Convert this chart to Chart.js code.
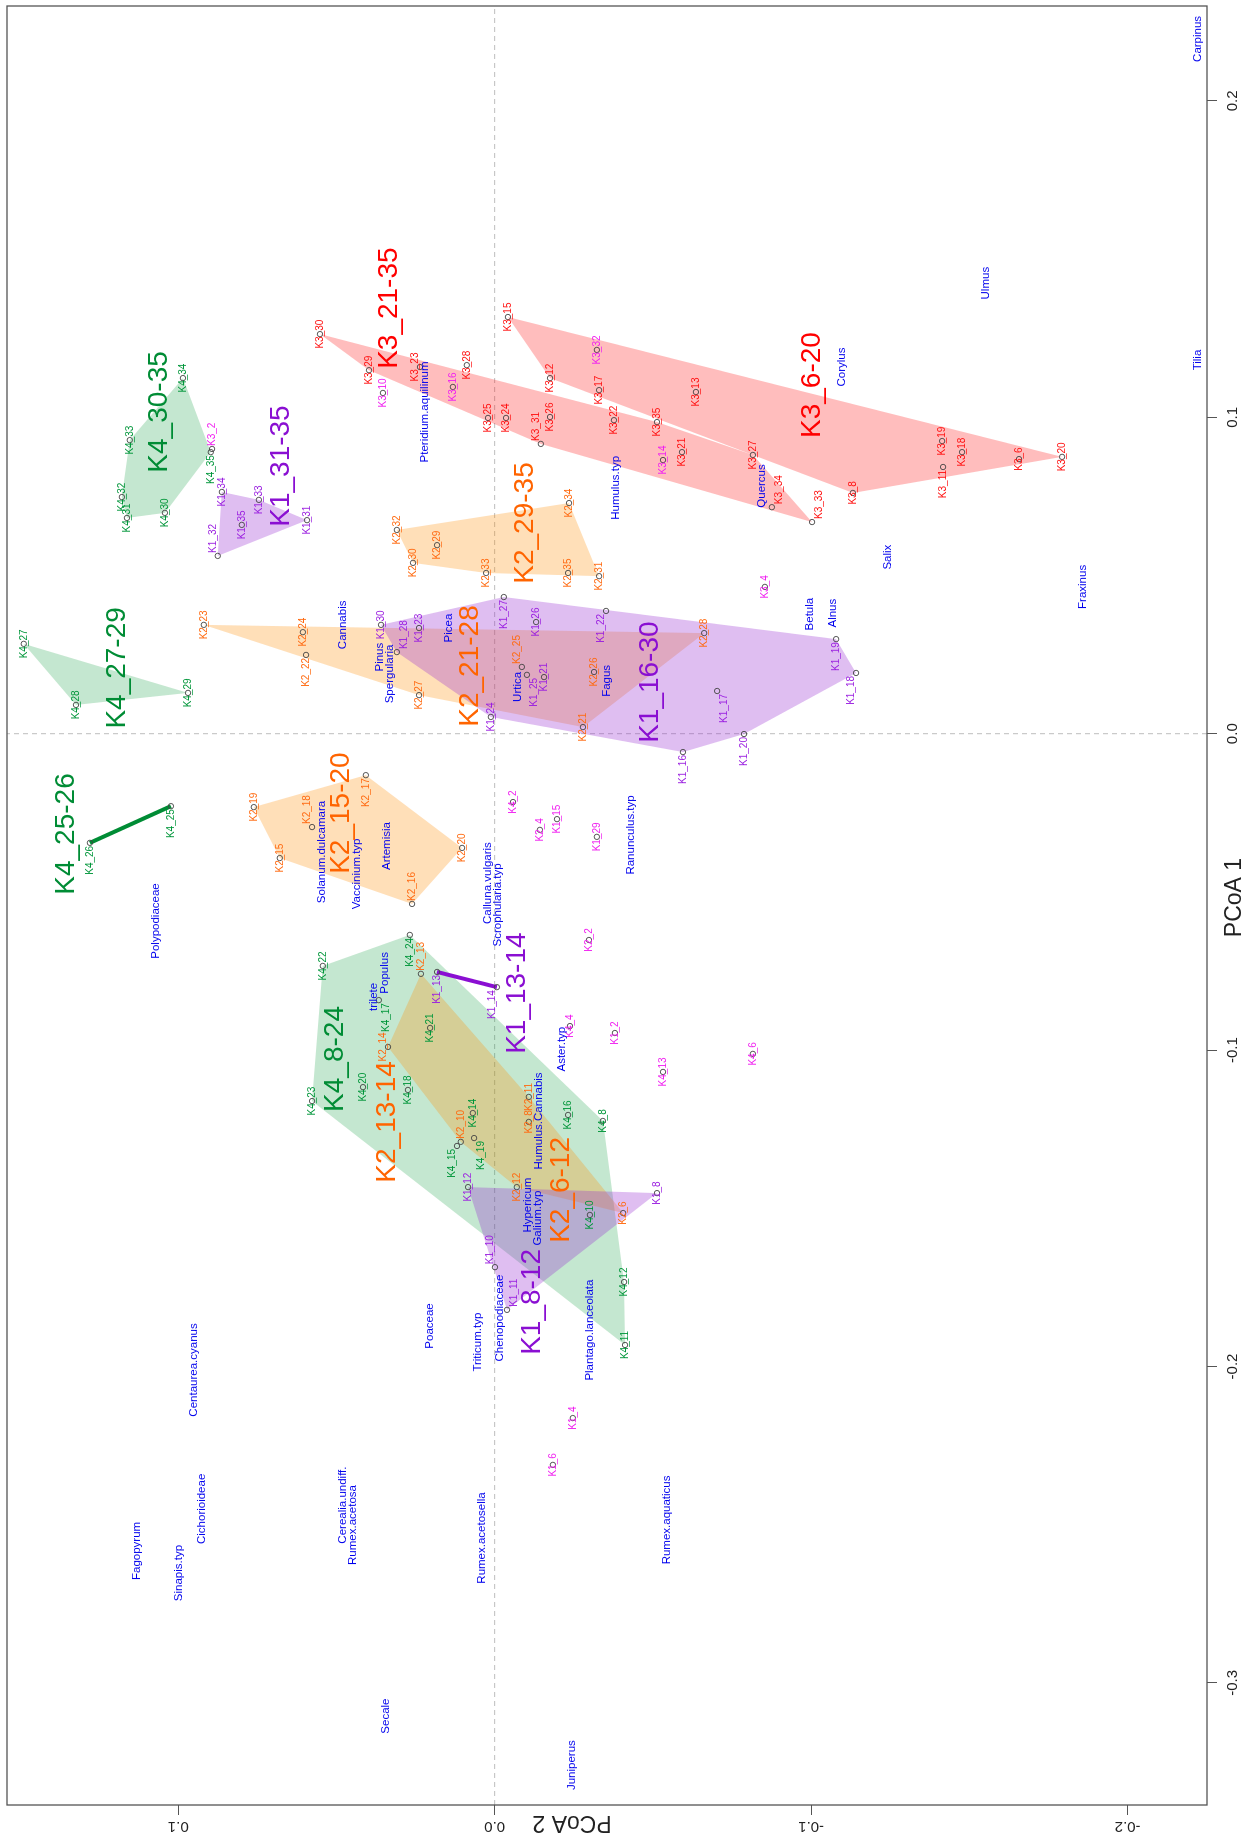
<!DOCTYPE html>
<html>
<head>
<meta charset="utf-8">
<title>PCoA ordination</title>
<script src="https://cdn.jsdelivr.net/npm/chart.js@4.4.1/dist/chart.umd.min.js"></script>
<style>
  html, body { margin: 0; padding: 0; width: 1251px; height: 1838px; overflow: hidden; background: #fff; }
  /* the plot is laid out landscape and turned a quarter turn counter-clockwise */
  #wrap { position: absolute; left: 0; top: 0; width: 1838px; height: 1251px;
          transform-origin: 0 0; transform: translateY(1838px) rotate(-90deg); }
  canvas { display: block; }
</style>
</head>
<body>
<div id="wrap"><canvas id="c" width="1838" height="1251"></canvas></div>
<script>
// ---- sample scores (PCoA 1, PCoA 2) per core ----
const k1Names = ['K1_8','K1_10','K1_11','K1_12','K1_13','K1_14','K1_16','K1_17','K1_18','K1_19','K1_20','K1_21','K1_22','K1_23','K1_24','K1_25','K1_26','K1_27','K1_28','K1_30','K1_31','K1_32','K1_33','K1_34','K1_35'];
const k1PC1 = [-0.1452,-0.1686,-0.1821,-0.1433,-0.0753,-0.0801,-0.0058,0.0135,0.0192,0.0299,-0.0001,0.0179,0.0388,0.0334,0.0053,0.0186,0.0353,0.0432,0.0258,0.0344,0.0675,0.0562,0.0739,0.0764,0.0660];
const k1PC2 = [-0.0513,-0.0001,-0.0039,0.0084,0.0182,-0.0007,-0.0595,-0.0703,-0.1142,-0.1079,-0.0788,-0.0156,-0.0352,0.0239,0.0012,-0.0102,-0.0131,-0.0029,0.0309,0.0359,0.0593,0.0875,0.0745,0.0862,0.0799];

const k2Names = ['K2_6','K2_8','K2_10','K2_11','K2_12','K2_13','K2_14','K2_15','K2_16','K2_17','K2_18','K2_19','K2_20','K2_21','K2_22','K2_23','K2_24','K2_25','K2_26','K2_27','K2_28','K2_29','K2_30','K2_31','K2_32','K2_33','K2_34','K2_35'];
const k2PC1 = [-0.1515,-0.1227,-0.1290,-0.1148,-0.1433,-0.0759,-0.0990,-0.0393,-0.0538,-0.0131,-0.0295,-0.0232,-0.0361,0.0021,0.0249,0.0344,0.0321,0.0211,0.0195,0.0122,0.0318,0.0596,0.0540,0.0498,0.0644,0.0508,0.0729,0.0508];
const k2PC2 = [-0.0406,-0.0108,0.0107,-0.0108,-0.0070,0.0233,0.0337,0.0679,0.0261,0.0407,0.0577,0.0761,0.0103,-0.0279,0.0596,0.0919,0.0606,-0.0086,-0.0314,0.0239,-0.0662,0.0182,0.0258,-0.0330,0.0309,0.0027,-0.0235,-0.0232];

const k3Names = ['K3_6','K3_8','K3_11','K3_12','K3_13','K3_15','K3_17','K3_18','K3_19','K3_20','K3_21','K3_22','K3_23','K3_24','K3_25','K3_26','K3_27','K3_28','K3_29','K3_30','K3_31','K3_33','K3_34','K3_35'];
const k3PC1 = [0.0868,0.0761,0.0843,0.1124,0.1080,0.1317,0.1086,0.0890,0.0925,0.0875,0.0890,0.0991,0.1159,0.0998,0.0998,0.1001,0.0881,0.1165,0.1149,0.1263,0.0916,0.0669,0.0716,0.0985];
const k3PC2 = [-0.1657,-0.1132,-0.1417,-0.0175,-0.0636,-0.0042,-0.0330,-0.1477,-0.1414,-0.1793,-0.0592,-0.0377,0.0236,-0.0036,0.0021,-0.0175,-0.0816,0.0088,0.0397,0.0552,-0.0146,-0.1003,-0.0876,-0.0513];

const k4Names = ['K4_8','K4_10','K4_11','K4_12','K4_14','K4_15','K4_16','K4_17','K4_18','K4_19','K4_20','K4_21','K4_22','K4_23','K4_24','K4_25','K4_26','K4_27','K4_28','K4_29','K4_30','K4_31','K4_32','K4_33','K4_34','K4_35'];
const k4PC1 = [-0.1224,-0.1521,-0.1932,-0.1733,-0.1199,-0.1303,-0.1205,-0.0842,-0.1126,-0.1278,-0.1117,-0.0930,-0.0734,-0.1161,-0.0636,-0.0229,-0.0345,0.0284,0.0091,0.0129,0.0698,0.0682,0.0748,0.0928,0.1124,0.0890];
const k4PC2 = [-0.0342,-0.0301,-0.0412,-0.0409,0.0069,0.0119,-0.0232,0.0366,0.0274,0.0065,0.0416,0.0204,0.0543,0.0577,0.0268,0.1023,0.1279,0.1488,0.1323,0.0969,0.1042,0.1162,0.1178,0.1153,0.0985,0.0897];

// samples outside the zone groups
const otherNames = ['K3_2','K3_4','K3_10','K3_14','K3_16','K3_32','K4_2','K4_4','K4_6','K4_13','K2_2','K2_4','K1_2','K1_4','K1_6','K1_15','K1_29'];
const otherPC1 = [0.0900,0.0464,0.1077,0.0865,0.1096,0.1213,-0.0216,-0.0924,-0.1012,-0.1069,-0.0652,-0.0304,-0.0946,-0.2163,-0.2311,-0.0270,-0.0326];
const otherPC2 = [0.0893,-0.0854,0.0353,-0.0532,0.0132,-0.0323,-0.0058,-0.0238,-0.0816,-0.0532,-0.0298,-0.0143,-0.0380,-0.0247,-0.0184,-0.0197,-0.0323];

// ---- pollen taxa ----
const taxaNames = ['Carpinus','Ulmus','Tilia','Corylus','Pteridium.aquilinum','Quercus','Humulus.typ','Salix','Fraxinus','Betula','Alnus','Picea','Cannabis','Pinus','Spergularia','Urtica','Fagus','Ranunculus.typ','Calluna.vulgaris','Scrophularia.typ','Solanum.dulcamara','Artemisia','Vaccinium.typ','Polypodiaceae','trilete','Populus','Aster.typ','Humulus.Cannabis','Hypericum','Galium.typ','Chenopodiaceae','Poaceae','Triticum.typ','Plantago.lanceolata','Centaurea.cyanus','Cichorioideae','Fagopyrum','Sinapis.typ','Cerealia.undiff.','Rumex.acetosa','Rumex.acetosella','Rumex.aquaticus','Secale','Juniperus'];
const taxaPC1 = [0.2196,0.1424,0.1181,0.1159,0.1017,0.0783,0.0777,0.0558,0.0464,0.0378,0.0381,0.0334,0.0344,0.0242,0.0189,0.0148,0.0167,-0.0320,-0.0472,-0.0541,-0.0374,-0.0355,-0.0443,-0.0592,-0.0832,-0.0756,-0.0997,-0.1224,-0.1490,-0.1531,-0.1847,-0.1872,-0.1923,-0.1885,-0.2011,-0.2450,-0.2583,-0.2653,-0.2438,-0.2501,-0.2542,-0.2485,-0.3105,-0.3260];
const taxaPC2 = [-0.2223,-0.1553,-0.2223,-0.1098,0.0220,-0.0845,-0.0383,-0.1243,-0.1859,-0.0997,-0.1069,0.0144,0.0479,0.0363,0.0331,-0.0074,-0.0355,-0.0431,0.0021,-0.0010,0.0546,0.0340,0.0435,0.1070,0.0381,0.0347,-0.0213,-0.0140,-0.0105,-0.0137,-0.0017,0.0204,0.0053,-0.0301,0.0950,0.0925,0.1131,0.0998,0.0479,0.0448,0.0040,-0.0545,0.0344,-0.0244];

// ---- zone groups: members and where their names sit ----
const groupNames = ['K4_8-24','K4_27-29','K4_30-35','K2_6-12','K2_15-20','K2_21-28','K2_29-35','K3_6-20','K3_21-35','K1_8-12','K1_16-30','K1_31-35'];
const groupMembers = [
  ['K4_8','K4_10','K4_11','K4_12','K4_14','K4_15','K4_16','K4_17','K4_18','K4_19','K4_20','K4_21','K4_22','K4_23','K4_24'],
  ['K4_27','K4_28','K4_29'],
  ['K4_30','K4_31','K4_32','K4_33','K4_34','K4_35'],
  ['K2_6','K2_8','K2_10','K2_11','K2_12','K2_13','K2_14'],
  ['K2_15','K2_16','K2_17','K2_18','K2_19','K2_20'],
  ['K2_21','K2_22','K2_23','K2_24','K2_25','K2_26','K2_27','K2_28'],
  ['K2_29','K2_30','K2_31','K2_32','K2_33','K2_34','K2_35'],
  ['K3_6','K3_8','K3_11','K3_12','K3_13','K3_15','K3_17','K3_18','K3_19','K3_20'],
  ['K3_21','K3_22','K3_23','K3_24','K3_25','K3_26','K3_27','K3_29','K3_30','K3_31','K3_33','K3_34','K3_35'],
  ['K1_8','K1_10','K1_11','K1_12'],
  ['K1_16','K1_17','K1_18','K1_19','K1_20','K1_21','K1_22','K1_23','K1_24','K1_25','K1_26','K1_27','K1_28','K1_30'],
  ['K1_31','K1_32','K1_33','K1_34','K1_35']
];
// two-sample groups joined by a segment
const pairNames = ['K4_25-26','K1_13-14'];
const pairMembers = [['K4_25','K4_26'],['K1_13','K1_14']];

const zoneLabels = ['K1_8-12','K1_13-14','K1_16-30','K1_31-35','K2_6-12','K2_13-14','K2_15-20','K2_21-28','K2_29-35','K3_6-20','K3_21-35','K4_8-24','K4_25-26','K4_27-29','K4_30-35'];
const zoneLabelPC1 = [-0.1796,-0.0820,0.0163,0.0846,-0.1442,-0.1227,-0.0251,0.0214,0.0666,0.1102,0.1345,-0.1028,-0.0317,0.0208,0.1017];
const zoneLabelPC2 = [-0.0118,-0.0070,-0.0491,0.0675,-0.0210,0.0340,0.0486,0.0078,-0.0096,-0.1003,0.0334,0.0505,0.1355,0.1192,0.1061];

// ---- appearance ----
const FONT = '"Liberation Sans", Arial, Helvetica, sans-serif';
const coreText = { K1: '#9a1ee0', K2: '#ff6a10', K3: '#ff1010', K4: '#00963a' };
const coreBig  = { K1: '#8a0fd2', K2: '#ff6400', K3: '#ff0000', K4: '#008c35' };
const coreFill = { K1: 'rgba(150,40,210,0.30)', K2: 'rgba(255,140,0,0.28)', K3: 'rgba(255,0,0,0.26)', K4: 'rgba(0,150,50,0.23)' };
const otherText = '#f020f0';
const taxaText = '#0000ee';
// side of the point on which a sample name is written (default: centred on it)
const labelSide = { K3_23:'a', K3_2:'r', K4_35:'l', K3_31:'ar', K3_11:'l', K3_33:'br', K3_34:'br', K1_27:'l', K1_22:'al',
  K2_25:'ar', K1_25:'bl', K1_17:'bl', K1_16:'l', K1_20:'l', K2_16:'r', K1_32:'ar', K2_22:'l', K1_28:'br', K4_26:'l',
  K4_25:'l', K2_18:'ar', K2_17:'l', K4_24:'l', K4_17:'bl', K2_14:'a', K2_13:'r', K1_13:'l', K1_14:'al', K2_10:'r',
  K4_15:'al', K4_19:'bl', K1_10:'ar', K1_11:'br', K1_19:'l', K1_18:'al' };

const X_MIN = -0.3386, X_MAX = 0.2300;   // PCoA 1
const Y_MIN = -0.2251, Y_MAX = 0.1541;   // PCoA 2

// ---- assemble ----
const samples = {};
function addCore(names, pc1, pc2, color) {
  names.forEach((n, i) => { samples[n] = { x: pc1[i], y: pc2[i], color }; });
}
addCore(k1Names, k1PC1, k1PC2, coreText.K1);
addCore(k2Names, k2PC1, k2PC2, coreText.K2);
addCore(k3Names, k3PC1, k3PC2, coreText.K3);
addCore(k4Names, k4PC1, k4PC2, coreText.K4);
addCore(otherNames, otherPC1, otherPC2, otherText);

function convexHull(pts) {
  const p = pts.slice().sort((a, b) => a.x - b.x || a.y - b.y);
  if (p.length < 3) return p;
  const cross = (o, a, b) => (a.x - o.x) * (b.y - o.y) - (a.y - o.y) * (b.x - o.x);
  const lower = [], upper = [];
  for (const q of p) {
    while (lower.length >= 2 && cross(lower[lower.length - 2], lower[lower.length - 1], q) <= 0) lower.pop();
    lower.push(q);
  }
  for (let i = p.length - 1; i >= 0; i--) {
    const q = p[i];
    while (upper.length >= 2 && cross(upper[upper.length - 2], upper[upper.length - 1], q) <= 0) upper.pop();
    upper.push(q);
  }
  upper.pop(); lower.pop();
  return lower.concat(upper);
}

const coreOf = name => name.slice(0, 2);
const hullOrder = { K1: 2, K3: 3, K2: 4, K4: 5 };

const datasets = [];
datasets.push({
  type: 'scatter', label: 'samples', order: 0,
  data: Object.values(samples).map(s => ({ x: s.x, y: s.y })),
  pointRadius: 2.7, pointBorderWidth: 0.9, pointBorderColor: '#444', pointBackgroundColor: 'rgba(0,0,0,0)'
});
pairNames.forEach((g, i) => {
  const c = coreOf(g);
  datasets.push({
    type: 'line', label: g, order: 1,
    data: pairMembers[i].map(n => ({ x: samples[n].x, y: samples[n].y })),
    borderColor: coreBig[c], borderWidth: 4, pointRadius: 0, fill: false, tension: 0
  });
});
groupNames.forEach((g, i) => {
  const c = coreOf(g);
  const hull = convexHull(groupMembers[i].map(n => ({ x: samples[n].x, y: samples[n].y })));
  hull.push({ x: hull[0].x, y: hull[0].y });
  datasets.push({
    type: 'line', label: g, order: hullOrder[c],
    data: hull, fill: 'shape', backgroundColor: coreFill[c],
    borderColor: 'rgba(0,0,0,0)', borderWidth: 0, pointRadius: 0, tension: 0
  });
});
// zero reference lines
datasets.push({ type: 'line', label: 'pc2zero', order: 9, data: [{ x: X_MIN, y: 0 }, { x: X_MAX, y: 0 }],
  borderColor: '#bdbdbd', borderWidth: 1, borderDash: [5, 4], pointRadius: 0, fill: false });
datasets.push({ type: 'line', label: 'pc1zero', order: 9, data: [{ x: 0, y: Y_MIN }, { x: 0, y: Y_MAX }],
  borderColor: '#bdbdbd', borderWidth: 1, borderDash: [5, 4], pointRadius: 0, fill: false });

const fmt = v => { const r = Math.round(v * 10) / 10; return (r === 0 ? 0 : r).toFixed(1); };

const labelPlugin = {
  id: 'ordinationText',
  afterDatasetsDraw(chart) {
    const { ctx, scales: { x, y } } = chart;
    ctx.save();
    // sample names
    ctx.font = '10px ' + FONT;
    for (const [name, s] of Object.entries(samples)) {
      const px = x.getPixelForValue(s.x), py = y.getPixelForValue(s.y);
      const side = labelSide[name] || 'c';
      let align = 'center', base = 'middle', tx = px, ty = py;
      if (side.includes('r')) { align = 'left'; tx = px + 3; }
      if (side.includes('l')) { align = 'right'; tx = px - 3; }
      if (side.includes('a')) { base = 'alphabetic'; ty = py - 2; }
      if (side.includes('b')) { base = 'top'; ty = py + 2; }
      ctx.fillStyle = s.color; ctx.textAlign = align; ctx.textBaseline = base;
      ctx.fillText(name, tx, ty);
    }
    // taxa
    ctx.font = '11.5px ' + FONT;
    ctx.fillStyle = taxaText; ctx.textAlign = 'center'; ctx.textBaseline = 'middle';
    taxaNames.forEach((t, i) => ctx.fillText(t, x.getPixelForValue(taxaPC1[i]), y.getPixelForValue(taxaPC2[i])));
    // zone names
    ctx.font = '28px ' + FONT;
    zoneLabels.forEach((g, i) => {
      ctx.fillStyle = coreBig[coreOf(g)];
      ctx.fillText(g, x.getPixelForValue(zoneLabelPC1[i]), y.getPixelForValue(zoneLabelPC2[i]));
    });
    ctx.restore();
  },
  afterDraw(chart) {
    const { ctx, chartArea: a, scales: { y } } = chart;
    ctx.save();
    ctx.strokeStyle = '#555'; ctx.lineWidth = 1.3;
    ctx.strokeRect(a.left, a.top, a.right - a.left, a.bottom - a.top);
    ctx.fillStyle = '#222';
    // PCoA 2 tick labels, written along the axis
    ctx.font = '15px ' + FONT; ctx.textAlign = 'center'; ctx.textBaseline = 'alphabetic';
    y.ticks.forEach(t => {
      ctx.save(); ctx.translate(a.left - 17, y.getPixelForValue(t.value)); ctx.rotate(-Math.PI / 2);
      ctx.fillText(fmt(t.value), 0, 0); ctx.restore();
    });
    // axis titles
    ctx.font = '23px ' + FONT;
    ctx.fillText('PCoA 1', (a.left + a.right) / 2 + 8, a.bottom + 34);
    ctx.save(); ctx.translate(a.left - 11, (a.top + a.bottom) / 2 - 35); ctx.rotate(-Math.PI / 2);
    ctx.fillText('PCoA 2', 0, 0); ctx.restore();
    ctx.restore();
  }
};

new Chart(document.getElementById('c'), {
  type: 'scatter',
  data: { datasets },
  options: {
    responsive: false, devicePixelRatio: 1, animation: false,
    layout: { padding: { left: 0, right: 6, top: 7, bottom: 0 } },
    plugins: { legend: { display: false }, tooltip: { enabled: false } },
    scales: {
      x: {
        type: 'linear', min: X_MIN, max: X_MAX,
        afterFit(s) { s.height = 44; },
        border: { display: false },
        grid: { drawOnChartArea: false, drawTicks: true, tickLength: 10, color: '#555', lineWidth: 1 },
        ticks: { stepSize: 0.1, includeBounds: false, autoSkip: false, maxRotation: 0, minRotation: 0,
                 padding: 7, color: '#222', font: { family: FONT, size: 15 }, callback: v => fmt(v) }
      },
      y: {
        type: 'linear', min: Y_MIN, max: Y_MAX,
        afterFit(s) { s.width = 33; },
        border: { display: false },
        grid: { drawOnChartArea: false, drawTicks: true, tickLength: 10, color: '#555', lineWidth: 1 },
        ticks: { display: false, stepSize: 0.1, includeBounds: false }
      }
    }
  },
  plugins: [labelPlugin]
});
</script>
</body>
</html>
